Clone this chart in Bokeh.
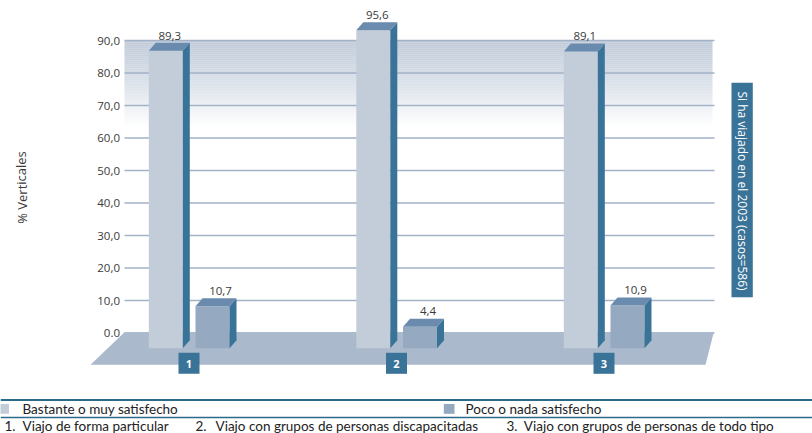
from bokeh.plotting import figure
from bokeh.models import Range1d
from bokeh.core.properties import value
from bokeh.embed import file_html
from bokeh.resources import INLINE

# ---- data ----
categories = ["1", "2", "3"]
bastante = [89.3, 95.6, 89.1]
poco = [10.7, 4.4, 10.9]
series_names = ["Bastante o muy satisfecho", "Poco o nada satisfecho"]
tick_values = [0, 10, 20, 30, 40, 50, 60, 70, 80, 90]
tick_labels = ["0.0", "10,0", "20,0", "30,0", "40,0", "50,0", "60,0", "70,0", "80,0", "90,0"]
category_labels = ["Viajo de forma particular",
                   "Viajo con grupos de personas discapacitadas",
                   "Viajo con grupos de personas de todo tipo"]
y_title = "% Verticales"
side_note = "Si ha viajado en el 2003 (casos=586)"

# ---- layout helpers (page pixels -> value units on y) ----
Y0 = 332.5
K = 3.25
def Y(py):
    return (Y0 - py) / K

FONT = value("Open Sans")
LFONT = value("Lato")

p = figure(width=812, height=433, x_range=Range1d(0, 812), y_range=Range1d(Y(433), Y(0)),
           output_backend="svg", toolbar_location=None, min_border=0,
           x_axis_location=None, y_axis_location=None)
p.grid.visible = False
p.outline_line_color = None
p.background_fill_color = "white"

# back plane gradient band
n = 44
top_c = (194, 204, 218)
for k in range(n):
    t = (k / (n - 1)) ** 1.2
    c = tuple(int(round(top_c[j] + (255 - top_c[j]) * t)) for j in range(3))
    y1 = 40 + k * 2
    p.quad(left=124, right=712, top=Y(y1), bottom=Y(y1 + 2.2),
           fill_color="#%02x%02x%02x" % c, line_color=None)

# gridlines
p.segment(x0=[124] * len(tick_values), x1=[714] * len(tick_values),
          y0=tick_values, y1=tick_values, line_color="#a2b2c7", line_width=1.6)

# tick labels
p.text(x=[119.5] * len(tick_values), y=tick_values, text=tick_labels,
       text_align="right", text_baseline="middle", text_font=FONT,
       text_font_size="11.5px", text_color="#3a3a3a")

# floor
p.patch(x=[124, 713.3, 705, 90], y=[Y(331.7), Y(331.7), Y(364.3), Y(364.3)],
        fill_color="#abb9cc", line_color=None)

# bars
W = 34
DX = 7
DY = 8 / K
base = Y(347.8)
front_colors = ["#c3cdd9", "#95a9c1"]
side_color = "#3a7398"
top_color = "#6a8bad"
for s, vals in enumerate([bastante, poco]):
    lefts = [188.5 + 207.5 * i - 40.2 + s * 46.7 for i in range(len(vals))]
    p.quad(left=lefts, right=[l + W for l in lefts], bottom=[base] * len(vals),
           top=[v - DY for v in vals], fill_color=front_colors[s], line_color=None)
    p.patches(xs=[[l + W, l + W + DX, l + W + DX, l + W] for l in lefts],
              ys=[[base, base + DY, v, v - DY] for v in vals],
              fill_color=side_color, line_color=None)
    p.patches(xs=[[l, l + W, l + W + DX, l + DX] for l in lefts],
              ys=[[v - DY, v - DY, v, v] for v in vals],
              fill_color=top_color, line_color=None)
    p.text(x=[l + W / 2 + (4 if s == 0 else 8) for l in lefts], y=[v + 1.0 for v in vals],
           text=[("%.1f" % v).replace(".", ",") for v in vals],
           text_align="center", text_baseline="bottom", text_font=FONT,
           text_font_size="11.5px", text_color="#3a3a3a")

# category boxes
cxs = [188.5 + 207.5 * i for i in range(len(categories))]
p.quad(left=[c - 10.5 for c in cxs], right=[c + 10.5 for c in cxs],
       top=[Y(352.3)] * 3, bottom=[Y(373.3)] * 3, fill_color=side_color, line_color=None)
p.text(x=cxs, y=[Y(363)] * 3, text=categories, text_align="center", text_baseline="middle",
       text_font=FONT, text_font_size="11px", text_font_style="bold", text_color="white")

# y title
p.text(x=[21], y=[Y(187)], text=[y_title], angle=1.5708, text_align="center",
       text_baseline="middle", text_font=FONT, text_font_size="13px", text_color="#3a3a3a")

# side note box
p.quad(left=731, right=752.3, top=Y(82.3), bottom=Y(296.7), fill_color=side_color, line_color=None)
p.text(x=[741.7], y=[Y(190.5)], text=[side_note], angle=-1.5708, text_align="center",
       text_baseline="middle", text_font=FONT, text_font_size="12px", text_color="white")

# legend lines
p.segment(x0=[0], x1=[812], y0=[Y(399.5)], y1=[Y(399.5)], line_color="#2c6a8a", line_width=2)
p.segment(x0=[0], x1=[812], y0=[Y(417)], y1=[Y(417)], line_color="#2c6a8a", line_width=1.5)

# legend entries
p.quad(left=[-3, 443.3], right=[8.5, 454], top=[Y(403.5)] * 2, bottom=[Y(413.3)] * 2,
       fill_color=front_colors, line_color=None)
p.text(x=[22, 465], y=[Y(408.5)] * 2, text=series_names, text_align="left",
       text_baseline="middle", text_font=LFONT, text_font_size="13.5px", text_color="#222222")

# category legend row
num_x = [4, 195, 506]
txt_x = [22, 215, 523.3]
p.text(x=num_x, y=[Y(425)] * 3, text=["1.", "2.", "3."], text_align="left",
       text_baseline="middle", text_font=LFONT, text_font_size="13.5px", text_color="#222222")
p.text(x=txt_x, y=[Y(425)] * 3, text=category_labels, text_align="left",
       text_baseline="middle", text_font=LFONT, text_font_size="13.5px", text_color="#222222")

open("out.html", "w").write(file_html(p, INLINE))
